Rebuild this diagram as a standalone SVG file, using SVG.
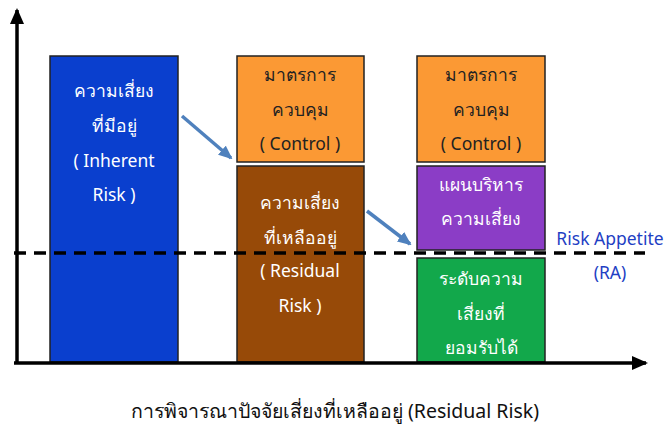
<svg xmlns="http://www.w3.org/2000/svg" width="667" height="426" viewBox="0 0 667 426">
<style>
.box{stroke:#222;stroke-width:1.5}
.t{font-family:"Noto Sans","Liberation Sans",sans-serif;font-size:17.5px;text-anchor:middle;dominant-baseline:central}
.w{fill:#fff}
.d{fill:#222}
.ra{fill:#1f3fc4}
.ax{stroke:#000;stroke-width:3.5;fill:none}
.arr{stroke:#4f81bd;stroke-width:3.5;fill:none}
.cap{font-size:19.5px;fill:#111}
</style>
<defs>
<marker id="bh" markerWidth="14" markerHeight="12" refX="12" refY="6" orient="auto" markerUnits="userSpaceOnUse"><path d="M0,0 L14,6 L0,12 z" fill="#4f81bd"/></marker>
<marker id="ka" markerWidth="16" markerHeight="14" refX="14" refY="7" orient="auto" markerUnits="userSpaceOnUse"><path d="M0,0 L16,7 L0,14 z" fill="#000"/></marker>
</defs>
<rect width="667" height="426" fill="#fff"/>
<g id="inherent">
<rect class="box" x="50" y="56" width="128" height="306" fill="#0a3fce"/>
<text class="t w" x="114" y="90">ความเสี่ยง</text>
<text class="t w" x="114" y="125">ที่มีอยู่</text>
<text class="t w" x="114" y="160">( Inherent</text>
<text class="t w" x="114" y="194">Risk )</text>
</g>
<g id="control1">
<rect class="box" x="237" y="56" width="127" height="106" fill="#fb9934"/>
<text class="t d" x="300" y="74">มาตรการ</text>
<text class="t d" x="300" y="109">ควบคุม</text>
<text class="t d" x="300" y="143">( Control )</text>
</g>
<g id="residual">
<rect class="box" x="237" y="166" width="127" height="196" fill="#974a08"/>
<text class="t w" x="300" y="202">ความเสี่ยง</text>
<text class="t w" x="300" y="237">ที่เหลืออยู่</text>
<text class="t w" x="300" y="270">( Residual</text>
<text class="t w" x="300" y="305">Risk )</text>
</g>
<g id="control2">
<rect class="box" x="417" y="56" width="128" height="106" fill="#fb9934"/>
<text class="t d" x="481" y="74">มาตรการ</text>
<text class="t d" x="481" y="109">ควบคุม</text>
<text class="t d" x="481" y="143">( Control )</text>
</g>
<g id="plan">
<rect class="box" x="417" y="166" width="128" height="84" fill="#8b3dc6"/>
<text class="t w" x="481" y="184">แผนบริหาร</text>
<text class="t w" x="481" y="218">ความเสี่ยง</text>
</g>
<g id="acceptable">
<rect class="box" x="417" y="258" width="128" height="104" fill="#12a84b"/>
<text class="t w" x="481" y="278">ระดับความ</text>
<text class="t w" x="481" y="313">เสี่ยงที่</text>
<text class="t w" x="481" y="347">ยอมรับได้</text>
</g>
<g id="ra-label">
<text class="t ra" x="610" y="238">Risk Appetite</text>
<text class="t ra" x="610" y="272">(RA)</text>
</g>
<g id="connectors">
<line class="ax" x1="17" y1="363" x2="17" y2="10" marker-end="url(#ka)"/>
<line class="ax" x1="14" y1="363" x2="646" y2="363" marker-end="url(#ka)"/>
<line x1="14" y1="253" x2="645" y2="253" stroke="#000" stroke-width="3.5" stroke-dasharray="12,8"/>
<line class="arr" x1="182" y1="116" x2="231" y2="158" marker-end="url(#bh)"/>
<line class="arr" x1="367" y1="211" x2="410" y2="244" marker-end="url(#bh)"/>
</g>
<text class="t cap" x="335" y="410">การพิจารณาปัจจัยเสี่ยงที่เหลืออยู่ (Residual Risk)</text>
</svg>
